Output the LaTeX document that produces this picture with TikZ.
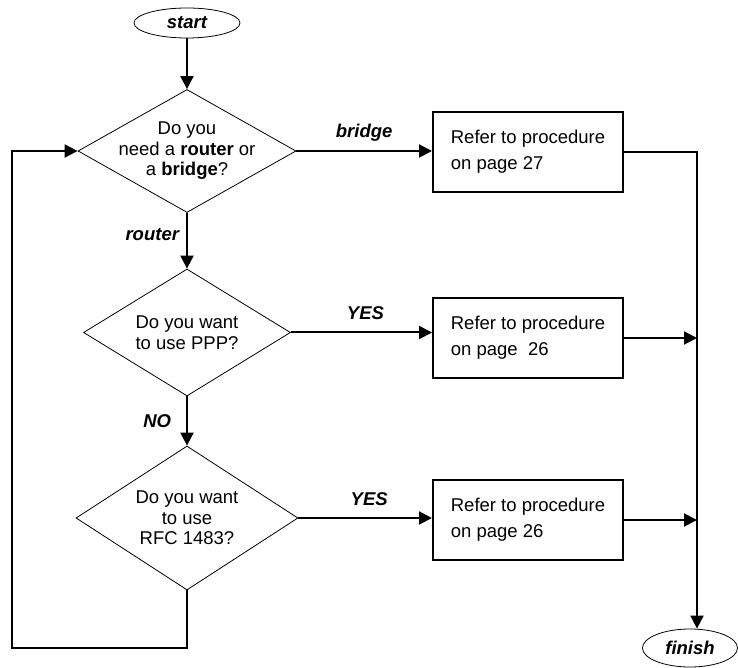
\documentclass[tikz,border=0pt]{standalone}
\usepackage{fontspec}
\setmainfont{Liberation Sans}
\usetikzlibrary{shapes.geometric}
\usetikzlibrary{arrows.meta}

\begin{document}
\begin{tikzpicture}[x=1pt,y=1pt,
  terminal/.style={ellipse,draw,line width=0.8,inner sep=0pt,minimum height=#1,
    font=\fontsize{18.5}{20}\selectfont\bfseries\itshape},
  decision/.style={diamond,draw,line width=0.8,inner sep=0pt},
  qtext/.style={align=center,font=\fontsize{18.5}{20.5}\selectfont},
  process/.style={rectangle,draw,line width=2,minimum width=190,minimum height=80,
    align=left,font=\fontsize{18.5}{26}\selectfont},
  flow/.style={line width=2,-{Triangle[length=13pt,width=13pt]}},
  lbl/.style={inner sep=2pt,font=\fontsize{18.5}{20}\selectfont\bfseries\itshape}]
\useasboundingbox (0,0) rectangle (738,667);

\node[terminal=30,minimum width=106] (start) at (187,644) {start};
\node[decision,minimum width=218,minimum height=123,
  label={[qtext]center:{Do you\\need a \textbf{router} or\\a \textbf{bridge}?}}] (d1) at (187,516) {};
\node[decision,minimum width=207,minimum height=127,
  label={[qtext]center:{Do you want\\to use PPP?}}] (d2) at (187,334.5) {};
\node[decision,minimum width=222,minimum height=144,
  label={[qtext]center:{Do you want\\to use\\RFC 1483?}}] (d3) at (187,149) {};

\node[process] (box1) at (528,515) {Refer to procedure\\on page 27};
\node[process] (box2) at (528,329) {Refer to procedure\\on page \ 26};
\node[process] (box3) at (528,147) {Refer to procedure\\on page 26};

\node[terminal=38,minimum width=95] (finish) at (690,19) {finish};
\coordinate (bus) at (697,0);
\coordinate (loop) at (12,19);

\draw[flow] (start.south) -- (d1.north);
\draw[flow] (d1.east) -- node[lbl,anchor=base,yshift=13] {bridge} (d1.east -| box1.west);
\draw[flow] (d1.south) -- node[lbl,anchor=base east,xshift=-5] {router} (d2.north);
\draw[flow] (d2.east) -- node[lbl,anchor=base,yshift=13,xshift=4] {YES} (d2.east -| box2.west);
\draw[flow] (d2.south) -- node[lbl,anchor=base east,xshift=-13,yshift=-6] {NO} (d3.north);
\draw[flow] (d3.east) -- node[lbl,anchor=base,yshift=13,xshift=4] {YES} (d3.east -| box3.west);
\draw[flow] (d3.south) |- (loop) |- (d1.west);

\draw[flow] (box1.east) -| (bus |- finish.north);
\draw[flow] (box2.east) -- (box2.east -| bus);
\draw[flow] (box3.east) -- (box3.east -| bus);

\end{tikzpicture}
\end{document}
